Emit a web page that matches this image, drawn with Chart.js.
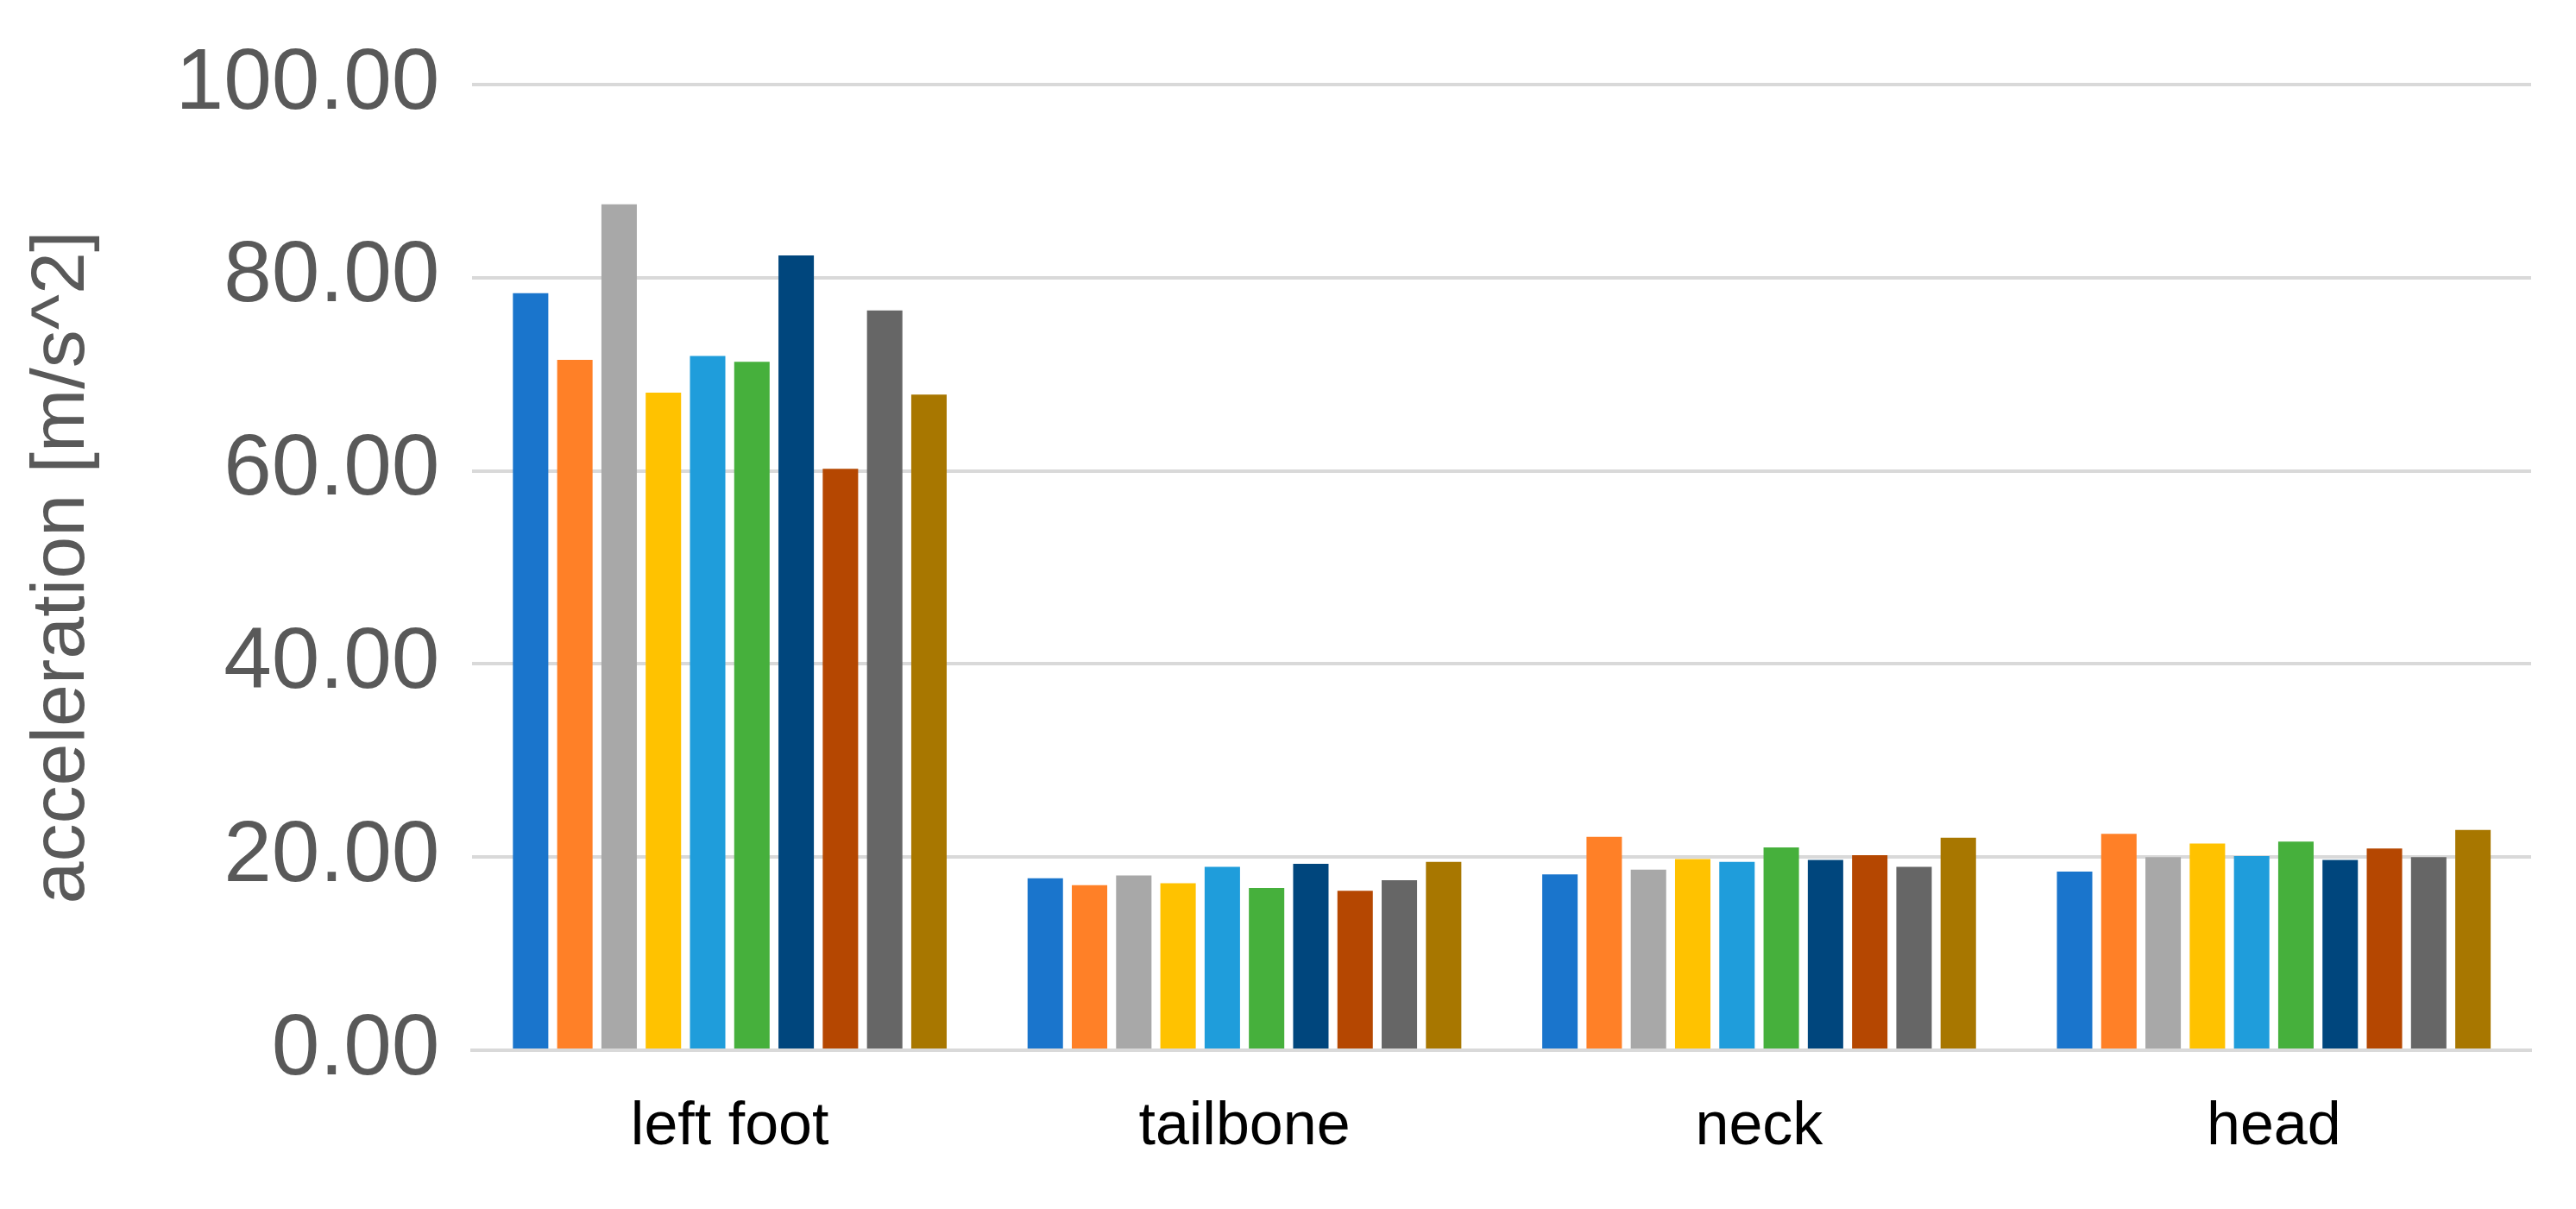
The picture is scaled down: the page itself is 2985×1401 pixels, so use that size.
<!DOCTYPE html>
<html>
<head>
<meta charset="utf-8">
<script src="https://cdn.jsdelivr.net/npm/chart.js@4"></script>
<style>
  html, body { margin: 0; padding: 0; background: #fff; }
  #wrap { width: 2985px; height: 1401px; }
</style>
</head>
<body>
<div id="wrap"><canvas id="chart" width="2985" height="1401"></canvas></div>
<script>
// categories and series
const categories = ['left foot', 'tailbone', 'neck', 'head'];
const yTicks = [0, 20, 40, 60, 80, 100];
const s1  = [78.4, 17.8, 18.2, 18.5];
const s2  = [71.5, 17.1, 22.1, 22.4];
const s3  = [87.6, 18.1, 18.7, 20.0];
const s4  = [68.1, 17.3, 19.8, 21.4];
const s5  = [71.9, 19.0, 19.5, 20.1];
const s6  = [71.3, 16.8, 21.0, 21.6];
const s7  = [82.3, 19.3, 19.7, 19.7];
const s8  = [60.2, 16.5, 20.2, 20.9];
const s9  = [76.6, 17.6, 19.0, 20.0];
const s10 = [67.9, 19.5, 22.0, 22.8];
const seriesValues = [s1, s2, s3, s4, s5, s6, s7, s8, s9, s10];
const colors = ['#1A75CC', '#FF8027', '#A8A8A8', '#FFC200', '#1F9DDB',
                '#46B03C', '#00467D', '#B54701', '#666666', '#A87700'];

const ctx = document.getElementById('chart').getContext('2d');
new Chart(ctx, {
    type: 'bar',
    data: {
        labels: categories,
        datasets: seriesValues.map((vals, i) => ({
            label: 'series ' + (i + 1),
            data: vals,
            backgroundColor: colors[i],
            barPercentage: 0.8,
            categoryPercentage: 0.86
        }))
    },
    options: {
        responsive: false,
        animation: false,
        devicePixelRatio: 1,
        layout: { padding: { left: 20, right: 52, top: 40, bottom: 12 } },
        plugins: { legend: { display: false }, tooltip: { enabled: false } },
        scales: {
            x: {
                grid: { display: false },
                border: { color: '#d9d9d9', width: 4 },
                ticks: { color: '#000', font: { family: 'Liberation Sans', size: 70 }, padding: 40 }
            },
            y: {
                min: 0, max: 100,
                afterBuildTicks: axis => { axis.ticks = yTicks.map(v => ({ value: v })); },
                grid: { color: '#d9d9d9', lineWidth: 4, drawTicks: false },
                border: { display: false },
                title: {
                    display: true, text: 'acceleration [m/s^2]', color: '#595959',
                    font: { family: 'Liberation Sans', size: 88 }, padding: { top: 0, bottom: 40 }
                },
                ticks: {
                    color: '#595959', padding: 38,
                    font: { family: 'Liberation Sans', size: 100 },
                    callback: v => v.toFixed(2)
                }
            }
        }
    }
});
</script>
</body>
</html>
